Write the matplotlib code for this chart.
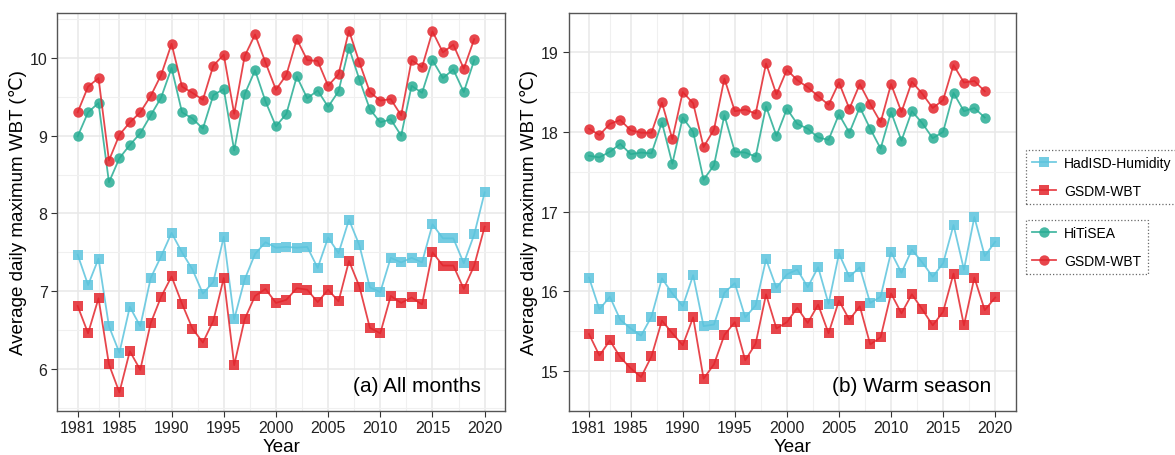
import numpy as np
import matplotlib
matplotlib.use("Agg")
import matplotlib.pyplot as plt
from matplotlib.lines import Line2D

plt.rcParams['font.family'] = ['Liberation Sans', 'DejaVu Sans']

years = list(range(1981, 2021))
years_hitisea = list(range(1981, 2020))
xticks = [1981, 1985, 1990, 1995, 2000, 2005, 2010, 2015, 2020]

# (a) All months
hadisd_all = [7.47, 7.08, 7.42, 6.55, 6.21, 6.80, 6.55, 7.17, 7.45, 7.75,
              7.50, 7.28, 6.97, 7.12, 7.70, 6.64, 7.15, 7.48, 7.63, 7.56,
              7.57, 7.56, 7.57, 7.30, 7.69, 7.49, 7.92, 7.59, 7.05, 6.99,
              7.43, 7.37, 7.43, 7.37, 7.86, 7.68, 7.68, 7.36, 7.73, 8.27]
gsdm_sq_all = [6.81, 6.46, 6.91, 6.06, 5.70, 6.23, 5.99, 6.59, 6.93, 7.19,
               6.84, 6.52, 6.34, 6.62, 7.17, 6.05, 6.64, 6.94, 7.03, 6.85,
               6.89, 7.04, 7.02, 6.86, 7.02, 6.87, 7.39, 7.06, 6.53, 6.46,
               6.94, 6.85, 6.92, 6.83, 7.50, 7.33, 7.33, 7.03, 7.33, 7.83]
hitisea_all = [8.99, 9.30, 9.42, 8.40, 8.71, 8.88, 9.03, 9.26, 9.49, 9.87,
               9.30, 9.22, 9.09, 9.52, 9.60, 8.81, 9.53, 9.84, 9.44, 9.12,
               9.28, 9.76, 9.48, 9.58, 9.37, 9.57, 10.13, 9.72, 9.34, 9.17,
               9.21, 9.00, 9.64, 9.55, 9.97, 9.74, 9.85, 9.56, 9.97]
gsdm_ci_all = [9.30, 9.63, 9.74, 8.68, 9.01, 9.17, 9.30, 9.51, 9.78, 10.18,
               9.63, 9.55, 9.46, 9.90, 10.04, 9.28, 10.02, 10.30, 9.94, 9.59,
               9.78, 10.24, 9.97, 9.96, 9.64, 9.79, 10.35, 9.94, 9.56, 9.45,
               9.47, 9.26, 9.97, 9.88, 10.34, 10.07, 10.17, 9.86, 10.24]

# (b) Warm season
hadisd_warm = [16.17, 15.77, 15.93, 15.64, 15.53, 15.44, 15.68, 16.16, 15.97, 15.81,
               16.20, 15.56, 15.58, 15.98, 16.10, 15.67, 15.82, 16.40, 16.04, 16.21,
               16.27, 16.05, 16.30, 15.84, 16.47, 16.18, 16.30, 15.85, 15.93, 16.49,
               16.23, 16.52, 16.36, 16.18, 16.35, 16.83, 16.27, 16.93, 16.44, 16.62]
gsdm_sq_warm = [15.46, 15.19, 15.38, 15.17, 15.03, 14.92, 15.18, 15.63, 15.47, 15.32,
                15.67, 14.90, 15.08, 15.45, 15.61, 15.13, 15.34, 15.96, 15.53, 15.61,
                15.79, 15.60, 15.83, 15.47, 15.88, 15.64, 15.81, 15.33, 15.42, 15.97,
                15.72, 15.96, 15.77, 15.57, 15.74, 16.22, 15.57, 16.17, 15.76, 15.92]
hitisea_warm = [17.70, 17.68, 17.75, 17.85, 17.72, 17.74, 17.73, 18.12, 17.60, 18.18,
                18.00, 17.40, 17.58, 18.21, 17.75, 17.74, 17.69, 18.32, 17.95, 18.29,
                18.10, 18.04, 17.93, 17.90, 18.22, 17.99, 18.31, 18.04, 17.79, 18.25,
                17.89, 18.26, 18.11, 17.92, 18.00, 18.49, 18.26, 18.30, 18.18]
gsdm_ci_warm = [18.04, 17.96, 18.10, 18.15, 18.02, 17.99, 17.99, 18.37, 17.91, 18.50,
                18.36, 17.81, 18.03, 18.67, 18.26, 18.28, 18.23, 18.86, 18.47, 18.78,
                18.65, 18.56, 18.45, 18.34, 18.62, 18.29, 18.60, 18.35, 18.12, 18.60,
                18.25, 18.63, 18.48, 18.30, 18.40, 18.84, 18.62, 18.64, 18.51]

c_cyan = '#5cc4dd'
c_red = '#e3262d'
c_teal = '#28ad94'


def style_panel(ax, yticks, data):
    lo = min(min(d) for d in data)
    hi = max(max(d) for d in data)
    pad = (hi - lo) * 0.05
    ax.set_ylim(lo - pad, hi + pad)
    ax.set_xlim(1981 - 0.05 * 39, 2020 + 0.05 * 39)
    ax.set_xticks(xticks)
    ax.set_yticks(yticks)
    minor_x = [(a + b) / 2 for a, b in zip(xticks[:-1], xticks[1:])]
    ax.set_xticks(minor_x, minor=True)
    minor_y = [y + 0.5 for y in [yticks[0] - 1] + yticks]
    ax.set_yticks(minor_y, minor=True)
    ax.grid(True, which='major', color='#e8e8e8', linewidth=1.1)
    ax.grid(True, which='minor', color='#f0f0f0', linewidth=0.8)
    ax.set_axisbelow(True)
    ax.tick_params(which='minor', length=0)
    ax.tick_params(which='major', length=4, width=0.8, color='#333333',
                   labelsize=11.5, labelcolor='#222222', pad=3)
    for s in ax.spines.values():
        s.set_color('#555555')
        s.set_linewidth(1.0)
    ax.set_xlabel('Year', fontsize=13.5, labelpad=2)
    ax.set_ylabel('Average daily maximum WBT (℃)', fontsize=13.5, labelpad=2)


def draw(ax, had, gsq, hit, gci):
    kw = dict(linewidth=1.3, markersize=7.5, alpha=0.85)
    ax.plot(years, had, color=c_cyan, marker='s', markeredgewidth=0, **kw)
    ax.plot(years, gsq, color=c_red, marker='s', markeredgewidth=0, **kw)
    ax.plot(years_hitisea, hit, color=c_teal, marker='o', markeredgewidth=0, **kw)
    ax.plot(years_hitisea, gci, color=c_red, marker='o', markeredgewidth=0, **kw)


fig = plt.figure(figsize=(11.75, 4.56), dpi=100)
ax1 = fig.add_axes([57.3 / 1175, 44.5 / 456, 447.7 / 1175, 398 / 456])
ax2 = fig.add_axes([568.7 / 1175, 44.5 / 456, 446.8 / 1175, 398 / 456])

draw(ax1, hadisd_all, gsdm_sq_all, hitisea_all, gsdm_ci_all)
style_panel(ax1, [6, 7, 8, 9, 10], [hadisd_all, gsdm_sq_all, hitisea_all, gsdm_ci_all])
ax1.text(0.945, 0.04, '(a) All months', transform=ax1.transAxes,
         ha='right', va='bottom', fontsize=15)

draw(ax2, hadisd_warm, gsdm_sq_warm, hitisea_warm, gsdm_ci_warm)
style_panel(ax2, [15, 16, 17, 18, 19], [hadisd_warm, gsdm_sq_warm, hitisea_warm, gsdm_ci_warm])
ax2.text(0.945, 0.04, '(b) Warm season', transform=ax2.transAxes,
         ha='right', va='bottom', fontsize=15)

hkw = dict(linewidth=1.3, markersize=7.5, alpha=0.85, markeredgewidth=0)
h1 = [Line2D([], [], color=c_cyan, marker='s', **hkw),
      Line2D([], [], color=c_red, marker='s', **hkw)]
h2 = [Line2D([], [], color=c_teal, marker='o', **hkw),
      Line2D([], [], color=c_red, marker='o', **hkw)]

lkw = dict(loc='upper left', fontsize=10, frameon=True, fancybox=False,
           handlelength=1.7, handletextpad=0.6, labelspacing=1.0,
           borderpad=0.45, borderaxespad=0)
leg1 = fig.legend(h1, ['HadISD-Humidity', 'GSDM-WBT'],
                  bbox_to_anchor=(1026 / 1175, 1 - 150.5 / 456), **lkw)
leg2 = fig.legend(h2, ['HiTiSEA', 'GSDM-WBT'],
                  bbox_to_anchor=(1026 / 1175, 1 - 220.5 / 456), **lkw)
for leg in (leg1, leg2):
    fr = leg.get_frame()
    fr.set_linestyle(':')
    fr.set_edgecolor('#444444')
    fr.set_linewidth(0.9)

fig.savefig('out.png', dpi=100)
